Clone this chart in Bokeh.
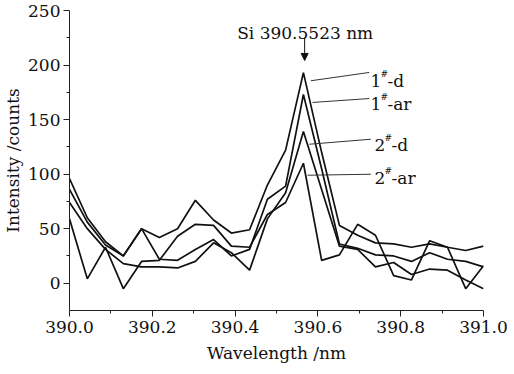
from bokeh.plotting import figure
from bokeh.models import FixedTicker, PrintfTickFormatter, Label, Arrow, NormalHead, Range1d
from bokeh.embed import file_html
from bokeh.resources import INLINE

# ---- data ----
wavelength = [390.000, 390.043, 390.087, 390.130, 390.174, 390.217, 390.261, 390.304,
              390.348, 390.391, 390.435, 390.478, 390.522, 390.565, 390.609, 390.652,
              390.696, 390.739, 390.783, 390.826, 390.870, 390.913, 390.957, 391.000]

d1 = [96, 60, 38, 25, 50, 42, 50, 76, 58, 46, 49, 90, 122, 193, 120, 53, 44, 37, 36, 33, 36, 33, 30, 34]
ar1 = [86, 56, 35, 25, 50, 22, 21, 31, 40, 25, 31, 77, 89, 173, 105, 36, 32, 26, 25, 20, 28, 22, 20, 15]
d2 = [74, 50, 31, 18, 15, 15, 14, 20, 37, 28, 12, 59, 83, 139, 86, 34, 31, 15, 19, 8, 13, 12, 3, -5]
ar2 = [59, 4, 33, -5, 20, 21, 43, 54, 53, 34, 33, 63, 74, 110, 21, 26, 54, 44, 7, 3, 39, 33, -5, 16]

series_labels = ["1", "1", "2", "2"]
series_suffix = ["-d", "-ar", "-d", "-ar"]

x_ticks = [390.0, 390.2, 390.4, 390.6, 390.8, 391.0]
x_minor = [390.1, 390.3, 390.5, 390.7, 390.9]
y_ticks = [0, 50, 100, 150, 200, 250]
y_minor = [25, 75, 125, 175, 225]

x_title = "Wavelength /nm"
y_title = "Intensity /counts"

FONT = "DejaVu Serif"

p = figure(frame_width=414, frame_height=300,
           x_range=Range1d(390.0, 391.0), y_range=Range1d(-25, 250),
           output_backend="svg", toolbar_location=None,
           min_border_left=64, min_border_right=26, min_border_top=10, min_border_bottom=48)
p.outline_line_color = None
p.grid.visible = False

p.xaxis.ticker = FixedTicker(ticks=x_ticks, minor_ticks=x_minor)
p.xaxis.formatter = PrintfTickFormatter(format="%.1f")
p.yaxis.ticker = FixedTicker(ticks=y_ticks, minor_ticks=y_minor)
p.xaxis.axis_label = x_title
p.yaxis.axis_label = y_title

for ax in p.axis:
    ax.axis_line_color = "#222222"
    ax.axis_line_width = 1
    ax.major_tick_line_color = "#222222"
    ax.minor_tick_line_color = "#222222"
    ax.major_tick_out = 6
    ax.major_tick_in = 0
    ax.minor_tick_out = 3
    ax.minor_tick_in = 0
    ax.major_label_text_font = FONT
    ax.major_label_text_font_size = "17px"
    ax.major_label_text_color = "#111111"
    ax.axis_label_text_font = FONT
    ax.axis_label_text_font_size = "17px"
    ax.axis_label_text_font_style = "normal"
    ax.axis_label_text_color = "#111111"

p.xaxis.major_label_standoff = 4
p.xaxis.axis_label_standoff = 7
p.yaxis.major_label_standoff = 3
p.yaxis.axis_label_standoff = 2

for ys in (d1, ar1, d2, ar2):
    p.line(wavelength, ys, line_color="#111111", line_width=1.7)

# leader lines to labels
lead_x0 = [390.583, 390.587, 390.579, 390.575]
lead_y0 = [185.6, 165.7, 127.4, 99.0]
lead_x1 = [390.724, 390.724, 390.728, 390.728]
lead_y1 = [193.2, 169.3, 132.0, 99.9]
p.segment(lead_x0, lead_y0, lead_x1, lead_y1, line_color="#333333", line_width=1)

lab_x = [390.727, 390.727, 390.737, 390.737]
lab_y = [185.8, 164.1, 126.5, 96.9]
for lx, ly, num, suf in zip(lab_x, lab_y, series_labels, series_suffix):
    p.add_layout(Label(x=lx, y=ly, text=num, text_font=FONT, text_font_size="17px",
                       text_color="#111111", text_baseline="alphabetic"))
    p.add_layout(Label(x=lx, y=ly, x_offset=10, y_offset=7, text="#", text_font=FONT,
                       text_font_size="9px", text_color="#111111", text_baseline="alphabetic"))
    p.add_layout(Label(x=lx, y=ly, x_offset=17, text=suf, text_font=FONT, text_font_size="17px",
                       text_color="#111111", text_baseline="alphabetic"))

p.add_layout(Label(x=390.405, y=229.8, text="Si  390.5523 nm", text_font=FONT,
                   text_font_size="17px", text_color="#111111", text_baseline="alphabetic"))
p.add_layout(Arrow(x_start=390.568, y_start=225.2, x_end=390.568, y_end=204.2,
                   line_color="#111111", line_width=1,
                   end=NormalHead(size=7, fill_color="#111111", line_color="#111111")))

open("out.html", "w").write(file_html(p, INLINE))
